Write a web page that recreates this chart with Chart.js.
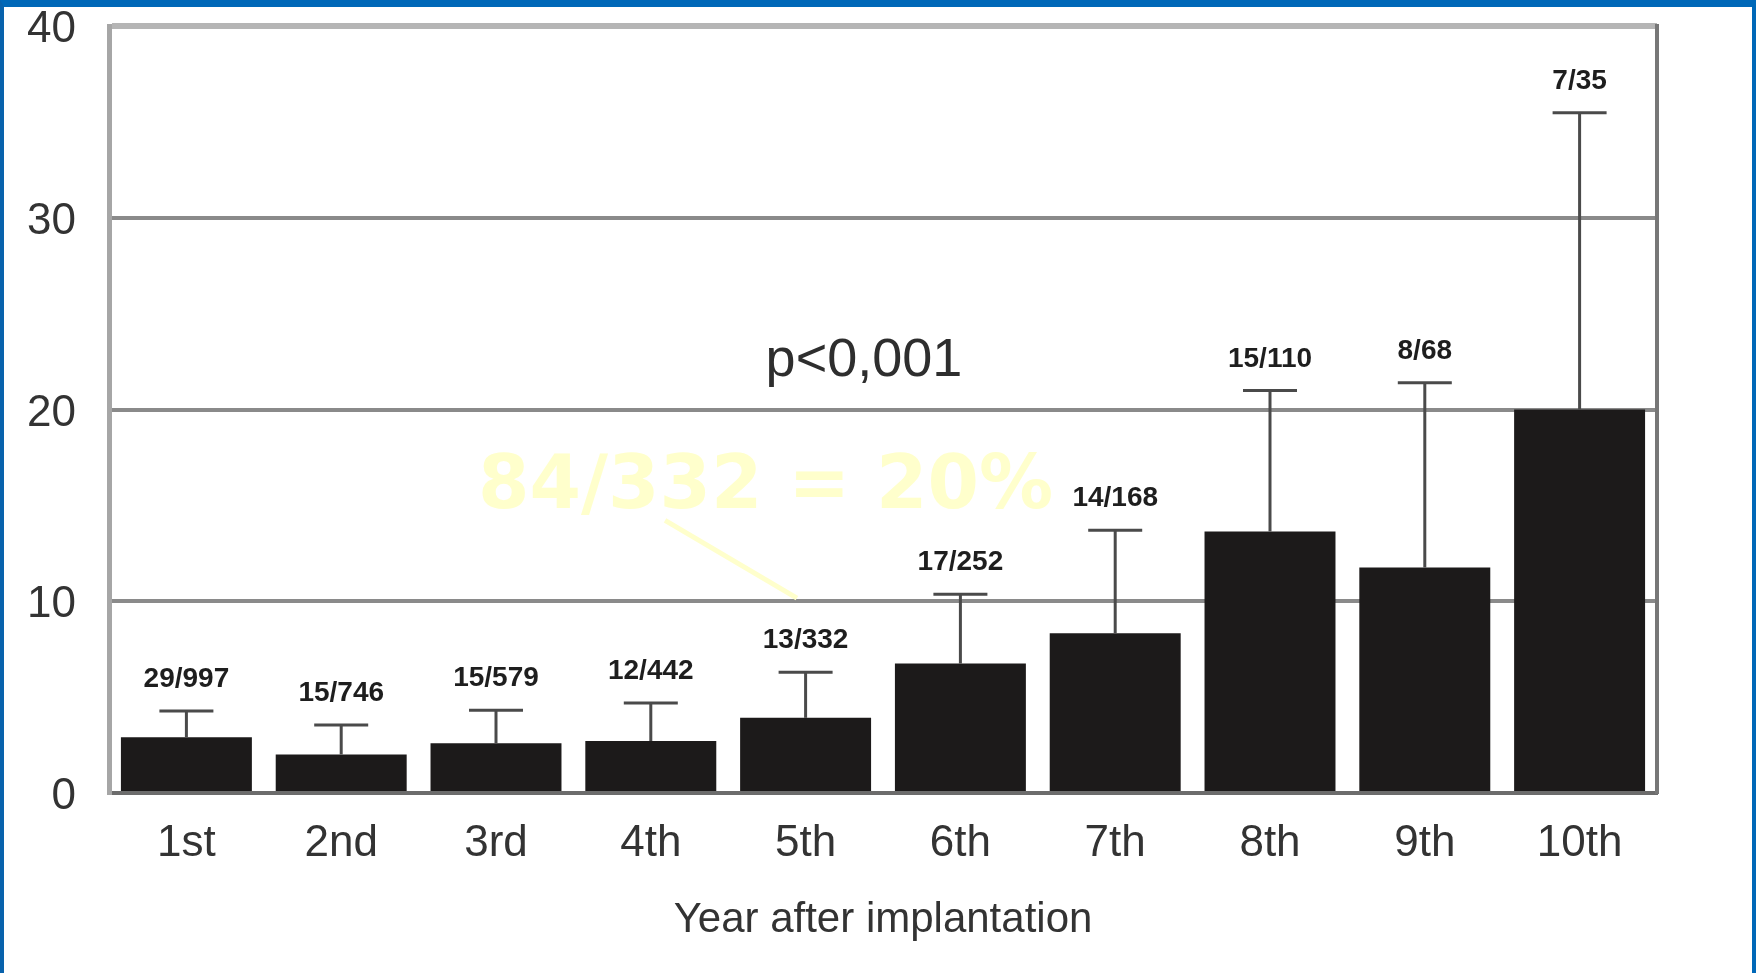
<!DOCTYPE html>
<html>
<head>
<meta charset="utf-8">
<title>Year after implantation</title>
<script src="https://cdn.jsdelivr.net/npm/chart.js@4/dist/chart.umd.min.js"></script>
<style>
  html, body { margin: 0; padding: 0; background: #ffffff; }
  #wrap { position: relative; width: 1756px; height: 973px; overflow: hidden; }
  #chart { position: absolute; left: 0; top: 0; }
  #frame {
    position: absolute; left: 0; top: 0; width: 1756px; height: 973px; box-sizing: border-box;
    border-top: 7px solid #0068b8; border-left: 4px solid #0862ac; border-right: 4px solid #0068b8;
    pointer-events: none;
  }
</style>
</head>
<body>
<div id="wrap">
  <canvas id="chart" width="1756" height="973"></canvas>
  <div id="frame"></div>
</div>
<script>
// Year after implantation
const yearLabels = ['1st', '2nd', '3rd', '4th', '5th', '6th', '7th', '8th', '9th', '10th'];
// events / patients at risk per year
const eventCounts = [29, 15, 15, 12, 13, 17, 14, 15, 8, 7];
const patientCounts = [997, 746, 579, 442, 332, 252, 168, 110, 68, 35];
// annual rate (%) and upper confidence limit (%)
const ratePercent = [2.91, 2.01, 2.59, 2.71, 3.92, 6.75, 8.33, 13.64, 11.76, 20.0];
const upperLimit = [4.27, 3.54, 4.32, 4.69, 6.30, 10.36, 13.70, 20.99, 21.40, 35.47];
const yTickValues = [0, 10, 20, 30, 40];

// free-standing annotations, placed in (category index, value) units
const pValueText = 'p<0,001';
const pValueAt = [4.377, 21.77];
const highlightText = '84/332 = 20%';
const highlightAt = [1.884, 14.84];
const highlightLeader = [[3.092, 14.22], [3.944, 10.16]];

const sansFamily = '"Liberation Sans", Arial, Helvetica, sans-serif';

const errorBarPlugin = {
  id: 'errorBars',
  afterDatasetsDraw(chart) {
    const { ctx } = chart;
    const yScale = chart.scales.y;
    const meta = chart.getDatasetMeta(0);
    ctx.save();
    meta.data.forEach((bar, i) => {
      const x = bar.x;
      const yTop = bar.y;
      const yUp = yScale.getPixelForValue(upperLimit[i]);
      ctx.strokeStyle = '#4a4a4a';
      ctx.lineWidth = 3;
      ctx.beginPath();
      ctx.moveTo(x, yTop);
      ctx.lineTo(x, yUp);
      ctx.stroke();
      ctx.beginPath();
      ctx.moveTo(x - 27, yUp);
      ctx.lineTo(x + 27, yUp);
      ctx.stroke();
      ctx.fillStyle = '#1e1e1e';
      ctx.font = 'bold 28px ' + sansFamily;
      ctx.textAlign = 'center';
      ctx.textBaseline = 'alphabetic';
      ctx.fillText(eventCounts[i] + '/' + patientCounts[i], x, yUp - 24);
    });
    ctx.restore();
  }
};

const annotationPlugin = {
  id: 'notes',
  afterDraw(chart) {
    const { ctx } = chart;
    const xs = chart.scales.x;
    const ys = chart.scales.y;
    ctx.save();
    ctx.fillStyle = '#2e2e2e';
    ctx.font = '54px ' + sansFamily;
    ctx.textAlign = 'center';
    ctx.textBaseline = 'alphabetic';
    ctx.fillText(pValueText, xs.getPixelForValue(pValueAt[0]), ys.getPixelForValue(pValueAt[1]));

    ctx.fillStyle = '#ffffcc';
    ctx.font = 'bold 74px "DejaVu Sans", Verdana, sans-serif';
    ctx.textAlign = 'left';
    ctx.fillText(highlightText, xs.getPixelForValue(highlightAt[0]), ys.getPixelForValue(highlightAt[1]));

    ctx.strokeStyle = '#ffffcc';
    ctx.lineWidth = 5;
    ctx.beginPath();
    ctx.moveTo(xs.getPixelForValue(highlightLeader[0][0]), ys.getPixelForValue(highlightLeader[0][1]));
    ctx.lineTo(xs.getPixelForValue(highlightLeader[1][0]), ys.getPixelForValue(highlightLeader[1][1]));
    ctx.stroke();
    ctx.restore();
  }
};

new Chart(document.getElementById('chart'), {
  type: 'bar',
  data: {
    labels: yearLabels,
    datasets: [{
      data: ratePercent,
      backgroundColor: '#1c1a1a',
      borderWidth: 0,
      barPercentage: 0.846,
      categoryPercentage: 1.0
    }]
  },
  options: {
    responsive: false,
    animation: false,
    devicePixelRatio: 1,
    layout: { padding: { left: 0, right: 99, top: 26, bottom: 0 } },
    plugins: { legend: { display: false }, tooltip: { enabled: false } },
    scales: {
      x: {
        type: 'category',
        grid: { display: true, drawOnChartArea: false, drawTicks: false },
        border: { display: true, color: '#6c6c6c', width: 4 },
        ticks: { padding: 24, color: '#333333', font: { family: sansFamily, size: 44 }, maxRotation: 0 },
        title: {
          display: true,
          text: 'Year after implantation',
          color: '#333333',
          font: { family: sansFamily, size: 42 },
          padding: { top: 0, bottom: 27 }
        },
        afterFit(scale) { scale.height = 180; scale.paddingLeft = 0; scale.paddingRight = 0; }
      },
      y: {
        min: 0,
        max: 40,
        afterBuildTicks(scale) { scale.ticks = yTickValues.map(v => ({ value: v })); },
        grid: {
          drawTicks: false,
          color(ctx) {
            const v = ctx.tick ? ctx.tick.value : null;
            if (v === 40) return '#b5b5b5';
            if (v === 0) return '#6c6c6c';
            return '#8a8a8a';
          },
          lineWidth(ctx) {
            const v = ctx.tick ? ctx.tick.value : null;
            if (v === 40) return 6;
            return 4;
          }
        },
        border: { display: true, color: '#a6a6a6', width: 5 },
        ticks: { padding: 33, labelOffset: 4, color: '#333333', font: { family: sansFamily, size: 44 } },
        afterFit(scale) { scale.width = 109; scale.paddingTop = 0; scale.paddingBottom = 0; }
      },
      yRight: {
        position: 'right',
        min: 0,
        max: 40,
        ticks: { display: false },
        grid: { display: true, drawOnChartArea: false, drawTicks: false },
        border: { display: true, color: '#777777', width: 4 },
        afterFit(scale) { scale.width = 0; scale.paddingTop = 0; scale.paddingBottom = 0; }
      }
    }
  },
  plugins: [errorBarPlugin, annotationPlugin]
});
</script>
</body>
</html>
